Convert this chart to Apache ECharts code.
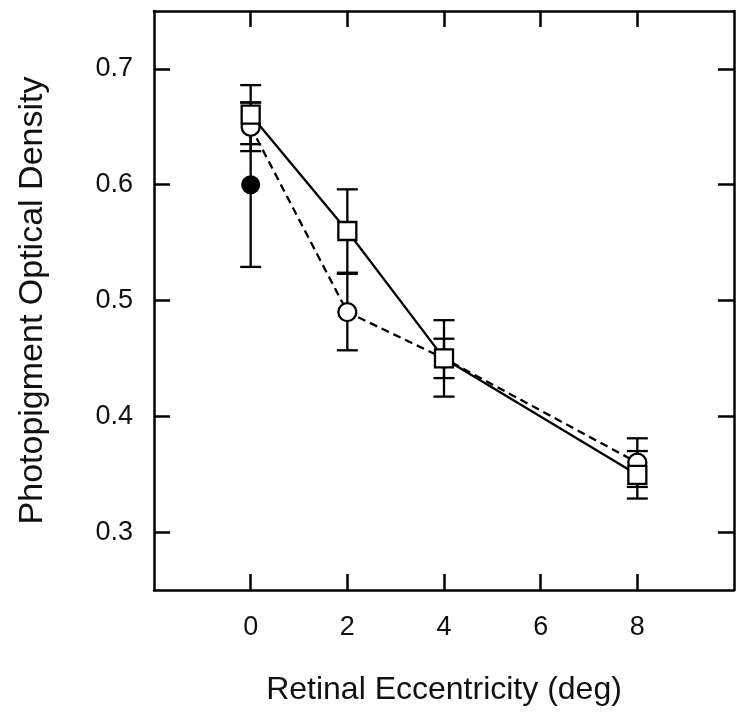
<!DOCTYPE html>
<html><head><meta charset="utf-8">
<script src="https://cdn.jsdelivr.net/npm/echarts@6/dist/echarts.min.js"></script>
<style>html,body{margin:0;padding:0;background:#fff}#c{width:750px;height:713px}</style>
</head><body><div id="c"></div>
<script>
// ---- data ----
const eccentricity = [0, 2, 4, 8];
const squareDensity = [0.6605, 0.560, 0.450, 0.3495];
const squareError   = [0.0255, 0.036, 0.033, 0.0205];
const circleDensity = [0.650, 0.490, 0.450, 0.360];
const circleError   = [0.021, 0.033, 0.017, 0.021];
const filledX = [0];
const filledDensity = [0.600];
const filledError   = [0.071];
const xTicks = [0, 2, 4, 6, 8];
const yTicks = [0.3, 0.4, 0.5, 0.6, 0.7];

const INK = '#000';
const TXT = '#111';
const FONT = 'Liberation Sans, Arial, Helvetica, sans-serif';

function errorSeries(xs, ys, es) {
  return {
    type: 'custom',
    silent: true,
    z: 1,
    data: xs.map((x, i) => [x, ys[i] - es[i], ys[i] + es[i]]),
    encode: { x: 0, y: [1, 2] },
    renderItem: (params, api) => {
      const x = api.value(0);
      const lo = api.coord([x, api.value(1)]);
      const hi = api.coord([x, api.value(2)]);
      const hw = 10.5;
      const style = { stroke: INK, lineWidth: 2.3, fill: null };
      return { type: 'group', children: [
        { type: 'line', shape: { x1: lo[0], y1: lo[1], x2: hi[0], y2: hi[1] }, style },
        { type: 'line', shape: { x1: lo[0] - hw, y1: lo[1], x2: lo[0] + hw, y2: lo[1] }, style },
        { type: 'line', shape: { x1: hi[0] - hw, y1: hi[1], x2: hi[0] + hw, y2: hi[1] }, style }
      ]};
    }
  };
}

const axisLine = { show: true, onZero: false, lineStyle: { color: INK, width: 2.5 } };
function xAx(pos, labels) {
  return {
    type: 'value', min: -2, max: 10, interval: 2, position: pos,
    axisLine,
    axisTick: { show: true, inside: true, length: 16, customValues: xTicks, lineStyle: { color: INK, width: 2.5 } },
    axisLabel: { show: labels, customValues: xTicks, fontSize: 27, margin: 24, color: TXT, fontFamily: FONT },
    splitLine: { show: false },
    name: labels ? 'Retinal Eccentricity (deg)' : '',
    nameLocation: 'middle', nameGap: 84,
    nameTextStyle: { fontSize: 32, color: TXT, fontFamily: FONT }
  };
}
function yAx(pos, labels) {
  return {
    type: 'value', min: 0.25, max: 0.75, position: pos,
    axisLine,
    axisTick: { show: true, inside: true, length: 16, customValues: yTicks, lineStyle: { color: INK, width: 2.5 } },
    axisLabel: { show: labels, customValues: yTicks, fontSize: 27, margin: 21, color: TXT, fontFamily: FONT,
                 formatter: v => v.toFixed(1) },
    splitLine: { show: false },
    name: labels ? 'Photopigment Optical Density' : '',
    nameLocation: 'middle', nameGap: 104,
    nameTextStyle: { fontSize: 34, color: TXT, fontFamily: FONT }
  };
}

const chart = echarts.init(document.getElementById('c'), null, { renderer: 'canvas' });
chart.setOption({
  animation: false,
  backgroundColor: '#fff',
  grid: { left: 154, right: 16, top: 11, bottom: 123 },
  xAxis: [xAx('bottom', true), xAx('top', false)],
  yAxis: [yAx('left', true), yAx('right', false)],
  series: [
    errorSeries(filledX, filledDensity, filledError),
    errorSeries(eccentricity, circleDensity, circleError),
    errorSeries(eccentricity, squareDensity, squareError),
    {
      type: 'line', z: 3,
      data: eccentricity.map((x, i) => [x, circleDensity[i]]),
      symbol: 'circle', symbolSize: 18,
      lineStyle: { color: INK, width: 2.3, type: [8, 5] },
      itemStyle: { color: '#fff', borderColor: INK, borderWidth: 2.3 }
    },
    {
      type: 'line', z: 4,
      data: eccentricity.map((x, i) => [x, squareDensity[i]]),
      symbol: 'rect', symbolSize: 18,
      lineStyle: { color: INK, width: 2.3 },
      itemStyle: { color: '#fff', borderColor: INK, borderWidth: 2.3 }
    },
    {
      type: 'scatter', z: 5,
      data: filledX.map((x, i) => [x, filledDensity[i]]),
      symbol: 'circle', symbolSize: 19,
      itemStyle: { color: INK, opacity: 1 }
    }
  ]
});
</script></body></html>
